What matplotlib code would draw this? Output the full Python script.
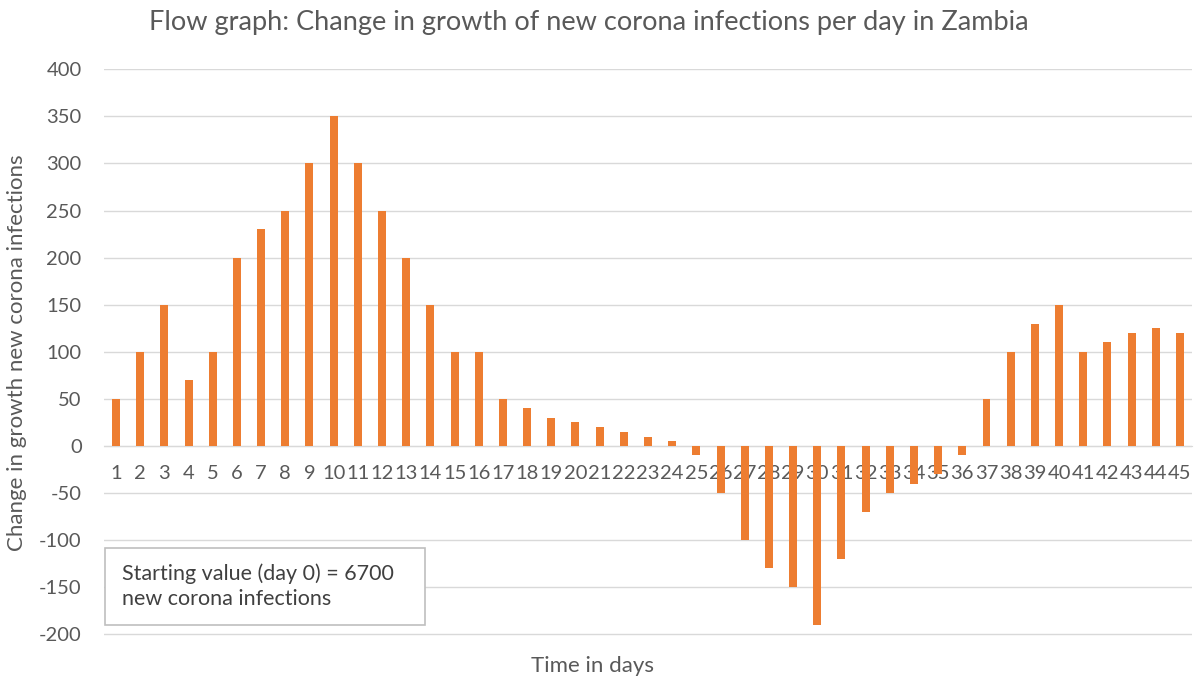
import matplotlib.pyplot as plt
from matplotlib.patches import Rectangle

days = list(range(1, 46))
growth_change = [50, 100, 150, 70, 100, 200, 230, 250, 300, 350,
                 300, 250, 200, 150, 100, 100, 50, 40, 30, 25,
                 20, 15, 10, 5, -10, -50, -100, -130, -150, -190,
                 -120, -70, -50, -40, -30, -10, 50, 100, 130, 150,
                 100, 110, 120, 125, 120]
y_ticks = list(range(-200, 401, 50))

plt.rcParams['font.family'] = ['Lato', 'DejaVu Sans']
plt.rcParams['axes.unicode_minus'] = False
text_color = '#595959'

fig = plt.figure(figsize=(11.95, 6.79), dpi=100)
ax = fig.add_axes([0.087, 0.063, 0.9105, 0.835])

ax.bar(days, growth_change, width=0.33, color='#ED7D31', zorder=3)

ax.set_xlim(0.5, 45.5)
ax.set_ylim(-202, 400)
ax.set_yticks(y_ticks)
ax.set_xticks(days)
ax.set_xticklabels([str(d) for d in days])
ax.grid(axis='y', color='#d9d9d9', linewidth=1, zorder=0)

for side in ['top', 'right', 'left']:
    ax.spines[side].set_visible(False)
ax.spines['bottom'].set_position(('data', 0))
ax.spines['bottom'].set_color('#d9d9d9')
ax.spines['bottom'].set_zorder(2)
ax.tick_params(axis='both', length=0, labelsize=14.5, colors=text_color)
ax.tick_params(axis='x', pad=14)
ax.tick_params(axis='y', pad=16)

fig.text(0.493, 0.967, 'Flow graph: Change in growth of new corona infections per day in Zambia',
         fontsize=19.5, color=text_color, ha='center', va='center')
ax.set_xlabel('Time in days', fontsize=16, color=text_color)
ax.xaxis.set_label_coords(0.449, -0.035)
ax.set_ylabel('Change in growth new corona infections', fontsize=16,
              color=text_color)
ax.yaxis.set_label_coords(-0.071, 0.5)

# note box in the lower left corner
box = Rectangle((0.001, 0.019), 0.294, 0.137, transform=ax.transAxes,
                facecolor='white', edgecolor='#bfbfbf', linewidth=1.2, zorder=4)
ax.add_patch(box)
ax.text(0.017, 0.088, 'Starting value (day 0) = 6700\nnew corona infections',
        transform=ax.transAxes, fontsize=15.5, color='#404040', va='center',
        ha='left', linespacing=1.3, zorder=5)

fig.savefig('out.png', dpi=100)
